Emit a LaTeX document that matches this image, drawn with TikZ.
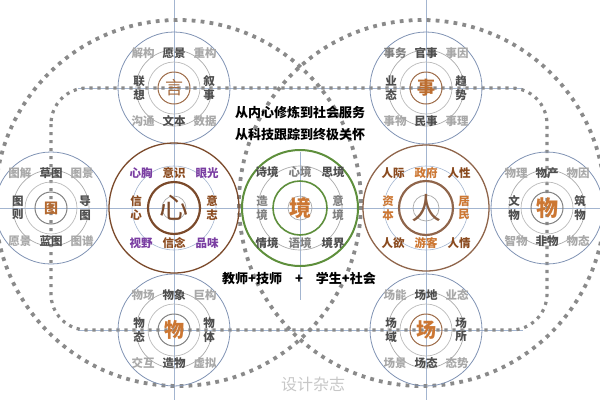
\documentclass[tikz,border=0pt]{standalone}
\usepackage{fontspec}
\setmainfont{Noto Sans CJK SC}
\usetikzlibrary{positioning}
\definecolor{dotgray}{HTML}{8A8A8A}
\definecolor{axisblue}{HTML}{A3B5D0}
\definecolor{ringblue}{HTML}{8194B4}
\definecolor{ringgray}{HTML}{AAAAAA}
\definecolor{txtdark}{HTML}{4E4E4E}
\definecolor{txtmid}{HTML}{808080}
\definecolor{txtlight}{HTML}{A8A8A8}
\definecolor{brownring}{HTML}{7B4A2B}
\definecolor{brownlight}{HTML}{9C6A47}
\definecolor{browntxt}{HTML}{8A4A1E}
\definecolor{orangetxt}{HTML}{CC7733}
\definecolor{purpletxt}{HTML}{7A3EA2}
\definecolor{greenring}{HTML}{5E8F3C}

\begin{document}
\begin{tikzpicture}[x=1pt, y=-1pt,
  bigdots/.style={draw=dotgray, line width=3.8pt, dash pattern=on 3.8pt off 5.2pt},
  smalldots/.style={draw=dotgray, line width=3.2pt, dash pattern=on 3.2pt off 4.8pt},
  axis/.style={draw=axisblue, line width=0.6pt},
  outerring/.style={draw=ringblue, line width=0.8pt},
  midring/.style={draw=ringgray, line width=0.7pt},
  lbl/.style={inner sep=0pt, align=center, font=\fontsize{11.5}{13.5}\selectfont\bfseries},
  darklbl/.style={lbl, text=txtdark},
  midlbl/.style={lbl, text=txtmid},
  lightlbl/.style={lbl, text=txtlight},
  purplelbl/.style={lbl, text=purpletxt},
  brownlbl/.style={lbl, text=browntxt},
  orangelbl/.style={lbl, text=orangetxt},
  hub/.style={inner sep=0pt, font=\fontsize{#1}{#1}\selectfont},
  heavyhub/.style={inner sep=0pt, font=\fontsize{#1}{#1}\selectfont\bfseries},
  motto/.style={inner sep=0pt, font=\fontsize{13}{13}\selectfont\bfseries}]
\useasboundingbox (0,0) rectangle (600,400);

% Cluster centres
\coordinate (yan) at (174,88);
\coordinate (shi) at (426,88);
\coordinate (tu) at (51,208);
\coordinate (xin) at (174,208);
\coordinate (jing) at (300,208);
\coordinate (ren) at (426,208);
\coordinate (wur) at (547,208);
\coordinate (wub) at (174,330);
\coordinate (chang) at (426,330);

% Thin axes
\draw[axis] (174,0) -- (174,400);
\draw[axis] (426,0) -- (426,400);
\draw[axis] (0,208) -- (600,208);
\draw[axis] (78,88) -- (523,88);
\draw[axis] (78,330) -- (523,330);
\draw[axis] (300,152) -- (300,300);

% Big dotted circles and rounded frame
\draw[bigdots] (178,203) circle (183pt);
\draw[bigdots] (422,203) circle (183pt);
\draw[smalldots, rounded corners=36pt] (51,88) rectangle (547,330);

% Outer clusters (rings)
\foreach \c/\inner in {yan/brownlight, shi/brownlight, tu/txtmid, wur/txtmid, wub/txtmid, chang/brownlight} {
  \draw[outerring] (\c) circle (56pt);
  \draw[midring] (\c) circle (38pt);
  \draw[midring, draw=ringgray!80] (\c) circle (26pt);
  \draw[draw=\inner, line width=1pt] (\c) circle (16pt);
}

% Inner clusters (rings)
\draw[draw=brownring, line width=1.3pt] (xin) circle (65pt);
\draw[axis] (xin) circle (42pt);
\draw[draw=brownring, line width=2.2pt] (xin) circle (26pt);
\draw[midring] (xin) circle (12pt);

\draw[draw=brownring!85, line width=1.3pt] (ren) circle (63pt);
\draw[axis] (ren) circle (42pt);
\draw[draw=brownring!85, line width=2.2pt] (ren) circle (27pt);
\draw[midring] (ren) circle (13pt);

\draw[draw=greenring, line width=2pt] (jing) circle (58pt);
\draw[midring] (jing) circle (42pt);
\draw[draw=greenring, line width=1.6pt] (jing) circle (27pt);
\draw[midring] (jing) circle (12pt);

% Hub characters
\node[hub=18, text=brownlight!90!orange] (yan-c) at (yan) {言};
\node[heavyhub=18, text=orangetxt!80!brownring] (shi-c) at (shi) {事};
\node[heavyhub=14, text=orangetxt!70!brownring] (tu-c) at (tu) {图};
\node[heavyhub=22, text=orangetxt] (wur-c) at (wur) {物};
\node[heavyhub=20, text=orangetxt] (wub-c) at (wub) {物};
\node[heavyhub=20, text=orangetxt] (chang-c) at (chang) {场};
\node[hub=29, text=brownring] (xin-c) at (xin) {心};
\node[hub=30, text=brownring!90] (ren-c) at (ren) {人};
\node[heavyhub=22, text=orangetxt] (jing-c) at (jing) {境};

% Labels
\foreach \t/\dx/\dy/\s [count=\i] in {解构/-31/-35/lightlbl, 愿景/0/-35/darklbl, 重构/31/-35/lightlbl,
    联\\想/-35/0/darklbl, 叙\\事/35/0/darklbl, 沟通/-31/33/lightlbl, 文本/0/33/darklbl, 数据/31/33/lightlbl}
  \node[\s] (yan-\i) at ([shift={(\dx,\dy)}]yan) {\t};
\foreach \t/\dx/\dy/\s [count=\i] in {事务/-31/-35/midlbl, 官事/0/-35/darklbl, 事因/31/-35/lightlbl,
    业\\态/-35/0/darklbl, 趋\\势/35/0/darklbl, 事物/-31/33/lightlbl, 民事/0/33/darklbl, 事理/31/33/lightlbl}
  \node[\s] (shi-\i) at ([shift={(\dx,\dy)}]shi) {\t};
\foreach \t/\dx/\dy/\s [count=\i] in {图解/-31/-35/lightlbl, 草图/0/-35/darklbl, 图景/31/-35/lightlbl,
    图\\则/-33/0/darklbl, 导\\图/34/0/darklbl, 愿景/-31/33/lightlbl, 蓝图/0/33/darklbl, 图谱/31/33/lightlbl}
  \node[\s] (tu-\i) at ([shift={(\dx,\dy)}]tu) {\t};
\foreach \t/\dx/\dy/\s [count=\i] in {物理/-31/-35/lightlbl, 物产/0/-35/darklbl, 物因/31/-35/lightlbl,
    文\\物/-33/0/darklbl, 筑\\物/33/0/darklbl, 智物/-31/33/lightlbl, 非物/0/33/darklbl, 物态/31/33/lightlbl}
  \node[\s] (wur-\i) at ([shift={(\dx,\dy)}]wur) {\t};
\foreach \t/\dx/\dy/\s [count=\i] in {物场/-31/-35/lightlbl, 物象/0/-35/darklbl, 巨构/31/-35/lightlbl,
    物\\态/-35/0/darklbl, 物\\体/35/0/darklbl, 交互/-31/33/lightlbl, 造物/0/33/darklbl, 虚拟/31/33/lightlbl}
  \node[\s] (wub-\i) at ([shift={(\dx,\dy)}]wub) {\t};
\foreach \t/\dx/\dy/\s [count=\i] in {场能/-31/-35/lightlbl, 场地/0/-35/darklbl, 业态/31/-35/lightlbl,
    场\\域/-35/0/darklbl, 场\\所/35/0/darklbl, 场景/-31/33/lightlbl, 场态/0/33/darklbl, 态势/31/33/lightlbl}
  \node[\s] (chang-\i) at ([shift={(\dx,\dy)}]chang) {\t};
\foreach \t/\dx/\dy/\s [count=\i] in {心胸/-33/-35/purplelbl, 意识/0/-35/brownlbl, 眼光/33/-35/purplelbl,
    信\\心/-38/0/brownlbl, 意\\志/38/0/brownlbl, 视野/-33/35/purplelbl, 信念/0/35/brownlbl, 品味/33/35/purplelbl}
  \node[\s] (xin-\i) at ([shift={(\dx,\dy)}]xin) {\t};
\foreach \t/\dx/\dy/\s [count=\i] in {人际/-33/-35/brownlbl, 政府/0/-35/orangelbl, 人性/33/-35/brownlbl,
    资\\本/-38/0/orangelbl, 居\\民/38/0/orangelbl, 人欲/-33/35/brownlbl, 游客/0/35/orangelbl, 人情/33/35/brownlbl}
  \node[\s] (ren-\i) at ([shift={(\dx,\dy)}]ren) {\t};
\foreach \t/\dx/\dy/\s [count=\i] in {诗境/-33/-36/darklbl, 心境/0/-36/midlbl, 思境/33/-36/darklbl,
    造\\境/-38/0/midlbl, 意\\境/38/0/midlbl, 情境/-33/35/darklbl, 语境/0/35/midlbl, 境界/33/35/darklbl}
  \node[\s] (jing-\i) at ([shift={(\dx,\dy)}]jing) {\t};

% Mottos
\node[motto] (motto1) at (300,113) {从内心修炼到社会服务};
\node[motto] (motto2) at (300,135) {从科技跟踪到终极关怀};
\node[motto] (roles) at (299,279) {教师+技师\quad{}+\quad{}学生+社会};

% Watermark
\node[text=black!22, inner sep=0pt, font=\fontsize{16}{16}\selectfont] (mark) at (313,384) {设计杂志};
\end{tikzpicture}
\end{document}
